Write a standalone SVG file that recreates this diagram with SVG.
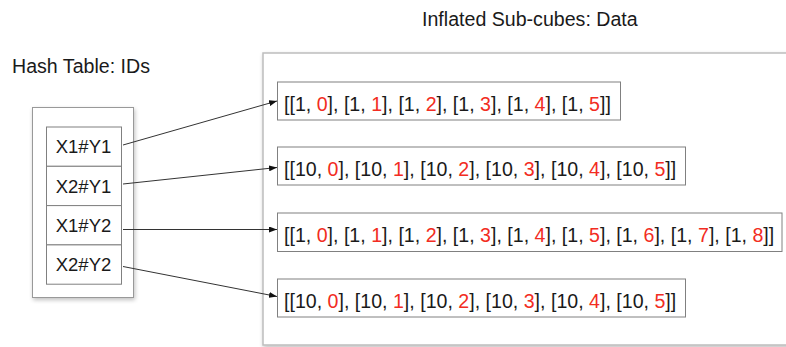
<svg xmlns="http://www.w3.org/2000/svg" width="786" height="347" viewBox="0 0 786 347">
<style>
text{font-family:"Liberation Sans",Arial,sans-serif;font-size:19.6px;fill:#1a1a1a}
.r{fill:#f22c22}
.cell{fill:#fff;stroke:#808080;stroke-width:1}
.box{fill:#fff;stroke:#808080;stroke-width:1}
.cont{fill:#fff;stroke:#999;stroke-width:1}
.big{fill:#fff;stroke:#bdbdbd;stroke-width:1.5}
.conn line{stroke:#333;stroke-width:1;marker-end:url(#ah)}
</style>
<defs>
<marker id="ah" viewBox="0 0 8 6" refX="8" refY="3" markerWidth="8" markerHeight="6" markerUnits="userSpaceOnUse" orient="auto">
<path d="M0,0 L8,3 L0,6 z" fill="#111"/>
</marker>
<filter id="sh" x="-10%" y="-10%" width="130%" height="130%">
<feGaussianBlur in="SourceAlpha" stdDeviation="2"/>
<feOffset dx="1" dy="2"/>
<feComponentTransfer><feFuncA type="linear" slope="0.25"/></feComponentTransfer>
<feMerge><feMergeNode/><feMergeNode in="SourceGraphic"/></feMerge>
</filter>
</defs>
<rect width="786" height="347" fill="#fff"/>
<text x="422" y="26">Inflated Sub-cubes: Data</text>
<text x="12" y="73">Hash Table: IDs</text>
<g id="data-container">
<rect class="big" x="263" y="53" width="540" height="292" filter="url(#sh)"/>
</g>
<g id="hash-table">
<rect class="cont" x="32.5" y="107.5" width="101" height="190" filter="url(#sh)"/>
</g>
<g id="cell-x1y1"><rect class="cell" x="46.5" y="127" width="75" height="39.3"/><text x="83.5" y="153.3" text-anchor="middle" style="font-size:18.5px">X1#Y1</text></g>
<g id="cell-x2y1"><rect class="cell" x="46.5" y="166.3" width="75" height="39.3"/><text x="83.5" y="192.6" text-anchor="middle" style="font-size:18.5px">X2#Y1</text></g>
<g id="cell-x1y2"><rect class="cell" x="46.5" y="205.6" width="75" height="39.3"/><text x="83.5" y="231.9" text-anchor="middle" style="font-size:18.5px">X1#Y2</text></g>
<g id="cell-x2y2"><rect class="cell" x="46.5" y="244.9" width="75" height="39.3"/><text x="83.5" y="271.2" text-anchor="middle" style="font-size:18.5px">X2#Y2</text></g>
<g id="data-1"><rect class="box" x="277.5" y="82" width="343" height="38"/><text x="284" y="111">[[1, <tspan class="r">0</tspan>], [1, <tspan class="r">1</tspan>], [1, <tspan class="r">2</tspan>], [1, <tspan class="r">3</tspan>], [1, <tspan class="r">4</tspan>], [1, <tspan class="r">5</tspan>]]</text></g>
<g id="data-2"><rect class="box" x="277.5" y="147" width="408" height="38"/><text x="284" y="175.5">[[10, <tspan class="r">0</tspan>], [10, <tspan class="r">1</tspan>], [10, <tspan class="r">2</tspan>], [10, <tspan class="r">3</tspan>], [10, <tspan class="r">4</tspan>], [10, <tspan class="r">5</tspan>]]</text></g>
<g id="data-3"><rect class="box" x="277.5" y="213" width="504.5" height="38.5"/><text x="284" y="241.5">[[1, <tspan class="r">0</tspan>], [1, <tspan class="r">1</tspan>], [1, <tspan class="r">2</tspan>], [1, <tspan class="r">3</tspan>], [1, <tspan class="r">4</tspan>], [1, <tspan class="r">5</tspan>], [1, <tspan class="r">6</tspan>], [1, <tspan class="r">7</tspan>], [1, <tspan class="r">8</tspan>]]</text></g>
<g id="data-4"><rect class="box" x="277.5" y="279" width="408" height="38"/><text x="284" y="307.5">[[10, <tspan class="r">0</tspan>], [10, <tspan class="r">1</tspan>], [10, <tspan class="r">2</tspan>], [10, <tspan class="r">3</tspan>], [10, <tspan class="r">4</tspan>], [10, <tspan class="r">5</tspan>]]</text></g>
<g class="conn" id="connectors">
<line x1="123" y1="145" x2="277" y2="101"/>
<line x1="123" y1="184" x2="277" y2="167.5"/>
<line x1="123" y1="229.5" x2="277" y2="229.5"/>
<line x1="123" y1="266.5" x2="277" y2="296.5"/>
</g>
</svg>
